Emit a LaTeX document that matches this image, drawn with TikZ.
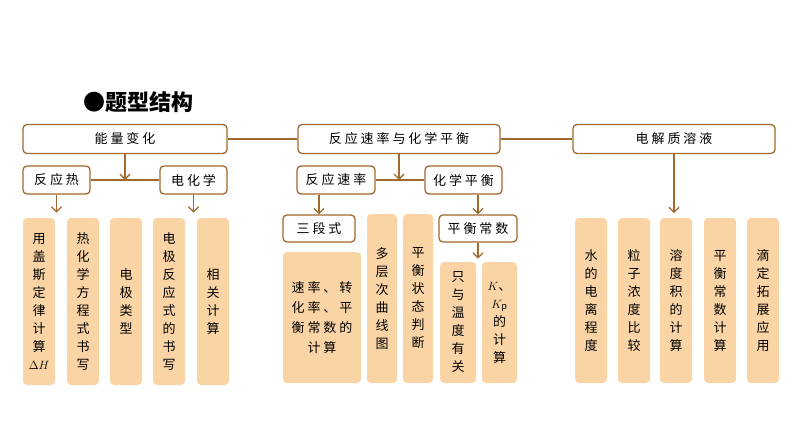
\documentclass[tikz,border=0pt]{standalone}
\usepackage{fontspec}
\setmainfont{Noto Sans CJK SC}
\usetikzlibrary{arrows.meta}
\definecolor{brownline}{RGB}{160,105,45}
\definecolor{tanfill}{RGB}{250,212,165}
\tikzset{
  headbox/.style={draw=brownline,line width=1.3pt,rounded corners=4pt,fill=white,inner sep=0pt,font=\fontsize{13}{13}\selectfont},
  tanbox/.style={fill=tanfill,rounded corners=4pt,inner sep=0pt,align=center,font=\fontsize{13}{18}\selectfont},
  link/.style={brownline,line width=1.3pt},
  arr/.style={brownline,line width=1.3pt,-{Straight Barb[length=5pt,width=10pt]}}
}
\begin{document}
\begin{tikzpicture}[x=1pt,y=-1pt]
        \useasboundingbox (0,0) rectangle (794,447);

        \node[font=\fontsize{22}{22}\selectfont\bfseries] (title) at (138,102) {●题型结构};

        % top row
        \node[headbox,minimum width=204,minimum height=29] (nl) at (125,139) {能\ 量\ 变\ 化};
        \node[headbox,minimum width=202,minimum height=29] (nm) at (399,139) {反\ 应\ 速\ 率\ 与\ 化\ 学\ 平\ 衡};
        \node[headbox,minimum width=202,minimum height=29] (nr) at (674,139) {电\ 解\ 质\ 溶\ 液};

        % second row
        \node[headbox,minimum width=67,minimum height=28] (fyr) at (56.5,180) {反\ 应\ 热};
        \node[headbox,minimum width=67,minimum height=28] (dhx) at (193.5,180) {电\ 化\ 学};
        \node[headbox,minimum width=78,minimum height=28] (fysl) at (336,180) {反\ 应\ 速\ 率};
        \node[headbox,minimum width=77,minimum height=28] (hxph) at (463.5,180) {化\ 学\ 平\ 衡};

        % third row, left
        \node[tanbox,minimum width=32,minimum height=167] (a1) at (39,301.5) {用\\盖\\斯\\定\\律\\计\\算\\$\Delta H$};
        \node[tanbox,minimum width=32,minimum height=167] (a2) at (83,301.5) {热\\化\\学\\方\\程\\式\\书\\写};
        \node[tanbox,minimum width=32,minimum height=167] (a3) at (126,301.5) {电\\极\\类\\型};
        \node[tanbox,minimum width=32,minimum height=167] (a4) at (169,301.5) {电\\极\\反\\应\\式\\的\\书\\写};
        \node[tanbox,minimum width=32,minimum height=167] (a5) at (213,301.5) {相\\关\\计\\算};

        % middle
        \node[headbox,minimum width=72,minimum height=27] (sdsh) at (319,228.5) {三\ 段\ 式};
        \node[headbox,minimum width=78,minimum height=27] (phcs) at (478,228.5) {平\ 衡\ 常\ 数};
        \node[tanbox,minimum width=78,minimum height=131,font=\fontsize{13}{20}\selectfont] (b1) at (322,317.5) {速\ 率\ 、\ 转\\化\ 率\ 、\ 平\\衡\ 常\ 数\ 的\\计\ 算};
        \node[tanbox,minimum width=30,minimum height=169] (b2) at (382,298.5) {多\\层\\次\\曲\\线\\图};
        \node[tanbox,minimum width=30,minimum height=169] (b3) at (418,298.5) {平\\衡\\状\\态\\判\\断};
        \node[tanbox,minimum width=36,minimum height=121] (b4) at (458,322.5) {只\\与\\温\\度\\有\\关};
        \node[tanbox,minimum width=35,minimum height=121] (b5) at (499.5,322.5) {$K$、\\$K_{\mathrm{p}}$\\的\\计\\算};

        % third row, right
        \node[tanbox,minimum width=32,minimum height=165] (c1) at (591,300.5) {水\\的\\电\\离\\程\\度};
        \node[tanbox,minimum width=32,minimum height=165] (c2) at (634,300.5) {粒\\子\\浓\\度\\比\\较};
        \node[tanbox,minimum width=32,minimum height=165] (c3) at (676,300.5) {溶\\度\\积\\的\\计\\算};
        \node[tanbox,minimum width=32,minimum height=165] (c4) at (720,300.5) {平\\衡\\常\\数\\计\\算};
        \node[tanbox,minimum width=32,minimum height=165] (c5) at (763,300.5) {滴\\定\\拓\\展\\应\\用};

        % connectors
        \draw[link] (nl.east) -- (nm.west);
        \draw[link] (nm.east) -- (nr.west);
        \draw[link] (fyr.east) -- (dhx.west);
        \draw[link] (fysl.east) -- (hxph.west);
        \draw[arr] (nl.south) -- (nl.south |- fyr.east);
        \draw[arr] (nm.south) -- (nm.south |- fysl.east);
        \draw[arr] (fyr.south) -- ++(0,18);
        \draw[arr] (dhx.south) -- ++(0,18);
        \draw[arr] (nr.south) -- ++(0,59);
        \draw[arr] (sdsh.north |- fysl.south) -- (sdsh.north);
        \draw[arr] (phcs.north |- hxph.south) -- (phcs.north);
        \draw[arr] (phcs.south) -- ++(0,16);
\end{tikzpicture}
\end{document}
